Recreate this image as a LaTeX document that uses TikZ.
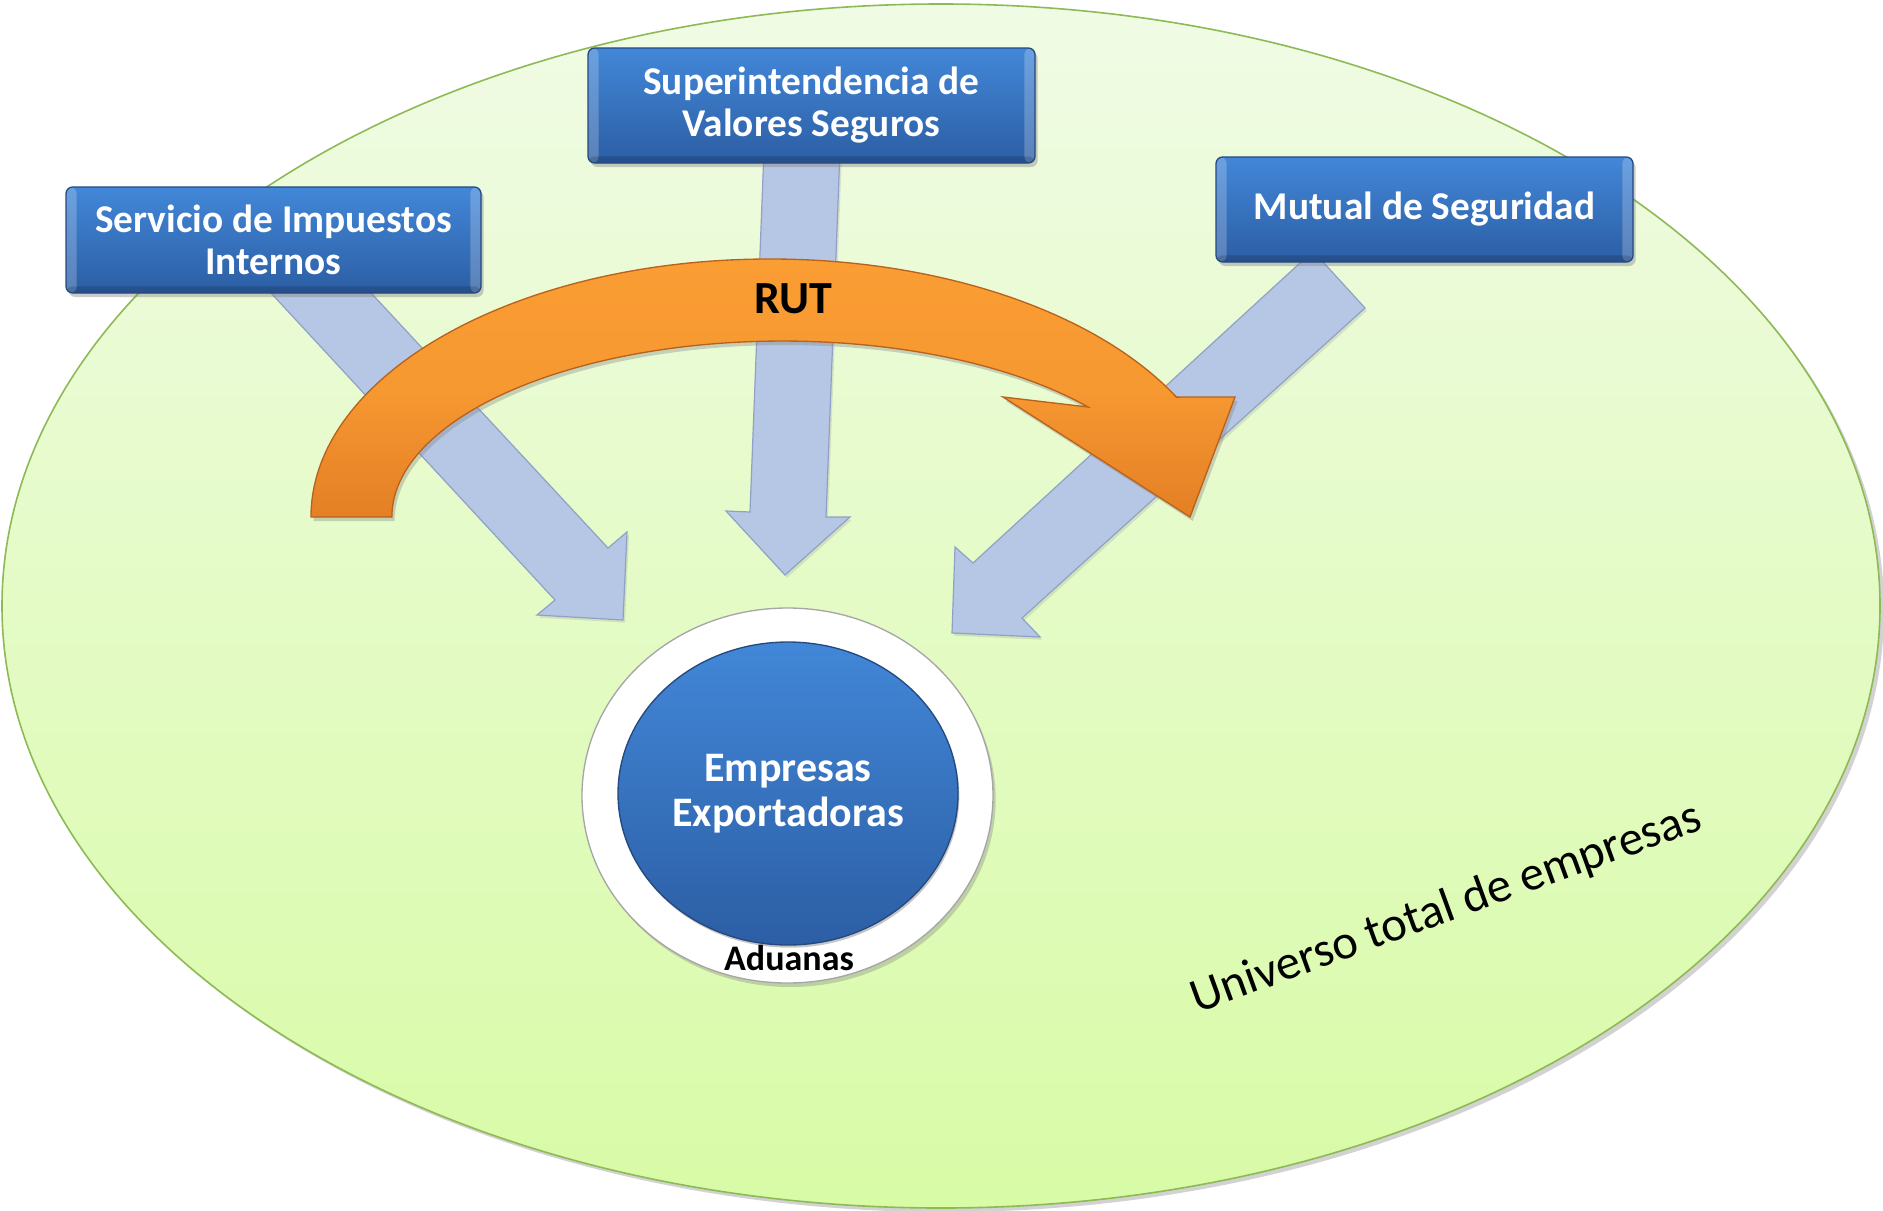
\documentclass[tikz,border=0pt]{standalone}
\usepackage{fontspec}
\setmainfont{Carlito}
\usetikzlibrary{shapes.geometric,shadows}
\definecolor{ellTop}{HTML}{F0FBE5}
\definecolor{ellBot}{HTML}{D8FBA6}
\definecolor{ellLine}{HTML}{8DBA55}
\definecolor{boxTop}{HTML}{4287D8}
\definecolor{boxBot}{HTML}{2C5EA4}
\definecolor{boxLine}{HTML}{24497F}
\definecolor{greyFill}{HTML}{B6C7E5}
\definecolor{greyLine}{HTML}{8FA2C6}
\definecolor{orTop}{HTML}{FA9D33}
\definecolor{orBot}{HTML}{E47F25}
\definecolor{orLine}{HTML}{B9621C}
\begin{document}
\begin{tikzpicture}[x=0.75pt,y=0.75pt,
  universe/.style={top color=ellTop, bottom color=ellBot, draw=ellLine, line width=1.2pt,
    drop shadow={shadow xshift=3pt, shadow yshift=-3pt, opacity=0.35}},
  greyarrow/.style={fill=greyFill, draw=greyLine, line width=0.9pt,
    drop shadow={shadow xshift=1.5pt, shadow yshift=-2pt, opacity=0.2}},
  orangearrow/.style={top color=orTop, bottom color=orBot, middle color=orTop!85!orBot, draw=orLine, line width=1pt,
    drop shadow={shadow xshift=2pt, shadow yshift=-3pt, opacity=0.35}},
  bluebox/.style={rectangle, rounded corners=5pt, top color=boxTop, bottom color=boxBot,
    draw=boxLine, line width=1pt, text=white, align=center, inner sep=0pt,
    font=\bfseries\fontsize{29.5}{31.5}\selectfont,
    drop shadow={shadow xshift=2pt, shadow yshift=-3pt, opacity=0.4},
    path picture={
      \fill[white,opacity=0.22] (path picture bounding box.north west) rectangle ([xshift=8pt]path picture bounding box.south west);
      \fill[white,opacity=0.22] ([xshift=-8pt]path picture bounding box.north east) rectangle (path picture bounding box.south east);
      \fill[black,opacity=0.15] (path picture bounding box.south west) rectangle ([yshift=5pt]path picture bounding box.south east);
    }},
  ring/.style={ellipse, fill=white, draw=gray!70, line width=1pt, inner sep=0pt,
    drop shadow={shadow xshift=2pt, shadow yshift=-3pt, opacity=0.35}},
  core/.style={ellipse, top color=boxTop, bottom color=boxBot, draw=boxLine, line width=1pt,
    text=white, align=center, inner sep=0pt,
    font=\bfseries\fontsize{31.5}{33.75}\selectfont,
    drop shadow={shadow xshift=1pt, shadow yshift=-2pt, opacity=0.45}}
]
\useasboundingbox (0,0) rectangle (1883,-1210);
\fill[white] (0,0) rectangle (1883,-1210);

% universe ellipse
\path[universe] (941,-606) ellipse [x radius=939, y radius=602];
\node[font=\fontsize{36.5}{40}\selectfont, rotate=20, anchor=base] (univ) at (1451,-921) {Universo total de empresas};

% grey arrows
\path[greyarrow] (259,-280) -- (555,-600) -- (537,-615) -- (623,-620) -- (627,-532) -- (608,-548) -- (359,-280) -- cycle;
\path[greyarrow] (764,-150) -- (750,-512) -- (726,-511) -- (785,-575) -- (850,-517) -- (826,-517) -- (840,-150) -- cycle;
\path[greyarrow] (1313,-251) -- (973,-563) -- (955,-547) -- (952,-633) -- (1040,-637) -- (1022,-618) -- (1365,-308) -- cycle;

% orange RUT arrow
\path[orangearrow] (311,-517) arc[start angle=180, end angle=27.7, x radius=459, y radius=258]
  -- (1235,-397) -- (1190,-517) -- (1003,-397) -- (1088,-407)
  arc[start angle=38.7, end angle=180, x radius=391, y radius=176] -- cycle;
\node[font=\bfseries\fontsize{34.5}{36}\selectfont, anchor=base] (rut) at (793,-313) {RUT};

% boxes
\node[bluebox, minimum width=311.25pt, minimum height=79.5pt] (sii) at (273.5,-240) {Servicio de Impuestos\\Internos};
\node[bluebox, minimum width=335.25pt, minimum height=86.25pt] (svs) at (811.5,-105.5) {Superintendencia de\\Valores Seguros};
\node[bluebox, minimum width=312.75pt, minimum height=78.75pt] (mutual) at (1424.5,-209.5) {Mutual de Seguridad};

% center
\node[ring, minimum width=308.25pt, minimum height=281.25pt] (ring) at (787.5,-795.5) {};
\node[core, minimum width=255pt, minimum height=227.25pt] (emp) at (788,-793.5) {Empresas\\Exportadoras};
\node[font=\bfseries\fontsize{27}{30}\selectfont, anchor=base] (adu) at (789,-970) {Aduanas};
\end{tikzpicture}
\end{document}
